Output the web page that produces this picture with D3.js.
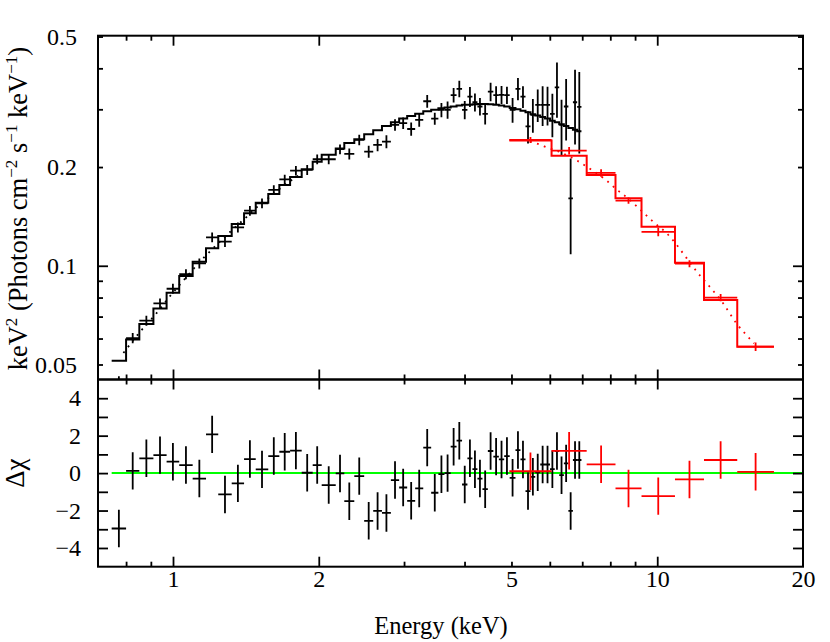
<!DOCTYPE html>
<html>
<head>
<meta charset="utf-8">
<script src="https://cdn.jsdelivr.net/npm/d3@7"></script>
<style>
  body { margin: 0; background: #fff; }
  svg { display: block; }
</style>
</head>
<body>
<script>
// black data group: bin edges (keV), unfolded flux, 1-sigma error, folded model, residuals
const blackEdges = [0.747, 0.800, 0.852, 0.911, 0.970, 1.030, 1.098, 1.170, 1.240, 1.322, 1.402, 1.482,
  1.573, 1.658, 1.745, 1.844, 1.943, 2.028, 2.168, 2.258, 2.368, 2.482, 2.591, 2.701, 2.818, 2.931,
  3.045, 3.163, 3.287, 3.413, 3.532, 3.636, 3.745, 3.851, 3.953, 4.055, 4.153, 4.253, 4.356, 4.469,
  4.587, 4.709, 4.830, 4.958, 5.096, 5.218, 5.345, 5.474, 5.598, 5.733, 5.865, 6.006, 6.142, 6.274,
  6.415, 6.554, 6.697, 6.833, 6.974];
const blackFlux = [0.0435, 0.0602, 0.0680, 0.0768, 0.0851, 0.0943, 0.1017, 0.1221, 0.1184, 0.1310,
  0.1472, 0.1550, 0.1703, 0.1835, 0.1950, 0.1960, 0.2113, 0.2113, 0.2267, 0.2193,
  0.2420, 0.2229, 0.2336, 0.2392, 0.2690, 0.2723, 0.2613, 0.2785, 0.3175, 0.2810,
  0.2988, 0.2988, 0.3315, 0.3465, 0.2988, 0.3280, 0.3152, 0.3060, 0.2907, 0.3397,
  0.3315, 0.3322, 0.3315, 0.2988, 0.3465, 0.3280, 0.2660, 0.2885, 0.3096, 0.3096,
  0.3096, 0.2907, 0.3497, 0.2690, 0.3060, 0.1605, 0.3152, 0.3050];
const blackErr = [0.0025, 0.0022, 0.0024, 0.0027, 0.0030, 0.0033, 0.0036, 0.0042, 0.0043, 0.0046,
  0.0050, 0.0053, 0.0056, 0.0060, 0.0065, 0.0068, 0.0072, 0.0075, 0.0078, 0.0085,
  0.0090, 0.0095, 0.0100, 0.0110, 0.0110, 0.0110, 0.0120, 0.0130, 0.0140, 0.0120,
  0.015, 0.018, 0.017, 0.020, 0.019, 0.023, 0.020, 0.019, 0.021, 0.022,
  0.021, 0.021, 0.020, 0.026, 0.027, 0.025, 0.030, 0.034, 0.035, 0.043,
  0.042, 0.044, 0.067, 0.052, 0.065, 0.052, 0.081, 0.085];
const blackModel = [0.0513, 0.0596, 0.0664, 0.0741, 0.0827, 0.0930, 0.1028, 0.1130, 0.1232, 0.1341,
  0.1445, 0.1557, 0.1655, 0.1764, 0.1864, 0.1969, 0.2077, 0.2180, 0.2280, 0.2370,
  0.2430, 0.2520, 0.2590, 0.2670, 0.2740, 0.2810, 0.2860, 0.2910, 0.2960, 0.2990,
  0.3020, 0.3040, 0.3060, 0.3080, 0.3095, 0.3100, 0.3110, 0.3115, 0.3115, 0.3110,
  0.3100, 0.3080, 0.3060, 0.3025, 0.3000, 0.2970, 0.2940, 0.2900, 0.2870, 0.2840,
  0.2810, 0.2770, 0.2740, 0.2700, 0.2670, 0.2630, 0.2600, 0.2570];
const blackRes = [-2.96, 0.12, 0.79, 0.96, 0.61, 0.43, -0.29, 2.07, -1.14, -0.55,
  0.75, 0.20, 0.91, 1.14, 1.20, 0.02, 0.43, -0.64, -0.02, -1.50,
  -0.16, -2.55, -2.02, -2.13, -0.37, -0.77, -1.48, -0.82, 1.36, -1.05,
  -0.06, 0.00, 1.41, 1.73, -0.61, 0.79, 0.21, -0.29, -0.86, 1.18,
  0.88, 0.73, 0.91, -0.25, 1.23, 0.73, -0.96, -0.20, 0.04, 0.46,
  0.46, 0.21, 1.18, -0.11, 0.52, -2.02, 0.70, 0.70];
// black unbinned model (dotted)
const blackLineE = [0.790, 0.855, 0.921, 0.990, 1.042, 1.159, 1.256, 1.336, 1.408, 1.489, 1.586, 1.730, 1.838];
const blackLineV = [0.0542, 0.0629, 0.0712, 0.0814, 0.0889, 0.1061, 0.1192, 0.1301, 0.1394, 0.1508, 0.1624, 0.1797, 0.1906];

// red data group
const redEdges = [4.95, 6.05, 7.15, 8.20, 9.28, 10.88, 12.49, 14.63, 17.42];
const redFlux = [0.2420, 0.2244, 0.1920, 0.1580, 0.1268, 0.1015, 0.0800, 0.0567];
const redErr = [0.0050, 0.0060, 0.0050, 0.0035, 0.0038, 0.0025, 0.0020, 0.0017];
const redModel = [0.2410, 0.2167, 0.1890, 0.1606, 0.1316, 0.1022, 0.0786, 0.0566];
const redRes = [0.10, 1.19, 0.47, -0.82, -1.23, -0.34, 0.70, 0.07];
const redLineE = [5.46, 5.73, 5.94, 6.19, 6.84, 7.32, 7.80, 8.28, 8.78, 9.28, 9.84, 10.46, 10.91,
  11.50, 12.12, 12.75, 13.69, 14.59, 15.45, 15.84];
const redLineV = [0.239, 0.234, 0.229, 0.2244, 0.209, 0.196, 0.1836, 0.170, 0.1588, 0.147, 0.1356,
  0.1256, 0.1170, 0.1055, 0.0952, 0.0873, 0.0767, 0.0666, 0.0604, 0.0580];

// ticks
const xMajor = [1, 2, 10];
const xMinor = [0.8, 0.9, 3, 4, 5, 6, 7, 8, 9];
const xLabels = [1, 2, 5, 10, 20];
const yMajor = [0.1];
const yMinor = [0.05, 0.06, 0.07, 0.08, 0.09, 0.2, 0.3, 0.4, 0.5];
const yLabels = [0.05, 0.1, 0.2, 0.5];
const resTicks = [-4, -3, -2, -1, 0, 1, 2, 3, 4];
const resLabels = [-4, -2, 0, 2, 4];

const width = 830, height = 642;
const x0 = 98, x1 = 803, yTop = 35.7, yMid = 379.5, yBot = 566.7;
const font = "Liberation Serif, Times New Roman, serif";
const fs = 24;

const svg = d3.select("body").append("svg")
  .attr("width", width)
  .attr("height", height);

const x = d3.scaleLog().domain([0.7, 20]).range([x0, x1]);
const y = d3.scaleLog().domain([0.045, 0.503]).range([yMid, yTop]);
const yr = d3.scaleLinear().domain([-5, 5]).range([yBot, yMid]);

// clip paths
const defs = svg.append("defs");
defs.append("clipPath").attr("id", "clipTop").append("rect")
  .attr("x", x0).attr("y", yTop).attr("width", x1 - x0).attr("height", yMid - yTop);
defs.append("clipPath").attr("id", "clipBot").append("rect")
  .attr("x", x0).attr("y", yMid).attr("width", x1 - x0).attr("height", yBot - yMid);

function bins(edges, flux, err, model, res) {
  return flux.map((v, i) => ({
    lo: edges[i], hi: edges[i + 1],
    c: Math.sqrt(edges[i] * edges[i + 1]),
    v, e: err[i], m: model[i], r: res[i]
  }));
}
const black = bins(blackEdges, blackFlux, blackErr, blackModel, blackRes);
const red = bins(redEdges, redFlux, redErr, redModel, redRes);

function stepPath(data) {
  let p = "";
  data.forEach((d, i) => {
    p += (i === 0 ? "M" : "L") + x(d.lo) + "," + y(d.m) + "L" + x(d.hi) + "," + y(d.m);
  });
  return p;
}

const topG = svg.append("g").attr("clip-path", "url(#clipTop)");
const botG = svg.append("g").attr("clip-path", "url(#clipBot)");

function drawGroup(data, color, lineE, lineV) {
  // folded model as histogram
  topG.append("path")
    .attr("d", stepPath(data))
    .attr("fill", "none")
    .attr("stroke", color)
    .attr("stroke-width", 2);

  // data crosses
  const g = topG.append("g").attr("stroke", color).attr("stroke-width", 1.8);
  g.selectAll(".h").data(data).enter().append("line")
    .attr("x1", d => x(d.lo)).attr("x2", d => x(d.hi))
    .attr("y1", d => y(d.v)).attr("y2", d => y(d.v));
  g.selectAll(".v").data(data).enter().append("line")
    .attr("x1", d => x(d.c)).attr("x2", d => x(d.c))
    .attr("y1", d => y(d.v + d.e)).attr("y2", d => y(Math.max(d.v - d.e, 0.01)));

  // unbinned model, dotted
  const pts = lineE.map((e, i) => [e, lineV[i]]);
  topG.append("path")
    .attr("d", d3.line().x(d => x(d[0])).y(d => y(d[1])).curve(d3.curveMonotoneX)(pts))
    .attr("fill", "none")
    .attr("stroke", color)
    .attr("stroke-width", 1.8)
    .attr("stroke-dasharray", "1.8,5.5");

  // residuals
  const r = botG.append("g").attr("stroke", color).attr("stroke-width", 1.8);
  r.selectAll(".h").data(data).enter().append("line")
    .attr("x1", d => x(d.lo)).attr("x2", d => x(d.hi))
    .attr("y1", d => yr(d.r)).attr("y2", d => yr(d.r));
  r.selectAll(".v").data(data).enter().append("line")
    .attr("x1", d => x(d.c)).attr("x2", d => x(d.c))
    .attr("y1", d => yr(d.r + 1)).attr("y2", d => yr(d.r - 1));
}

// zero line in the residual panel
botG.append("line")
  .attr("x1", x(blackEdges[0])).attr("x2", x(20))
  .attr("y1", yr(0)).attr("y2", yr(0))
  .attr("stroke", "#00ff00")
  .attr("stroke-width", 2);

drawGroup(black, "#000", blackLineE, blackLineV);
drawGroup(red, "#ff0000", redLineE, redLineV);

// frames
[[yTop, yMid], [yMid, yBot]].forEach(([a, b]) => {
  svg.append("rect")
    .attr("x", x0).attr("y", a)
    .attr("width", x1 - x0).attr("height", b - a)
    .attr("fill", "none").attr("stroke", "#000").attr("stroke-width", 2);
});

// tick marks
function ticks(axis, tx, ty) {
  const g = svg.append("g")
    .attr("transform", `translate(${tx},${ty})`)
    .call(axis.tickFormat(""));
  g.select(".domain").remove();
  g.selectAll(".tick line").attr("stroke-width", 1.8);
}
[[yTop, d3.axisTop], [yMid, d3.axisBottom], [yMid, d3.axisTop], [yBot, d3.axisBottom]].forEach(([yy, ax]) => {
  ticks(ax(x).tickValues(xMajor).tickSize(-10), 0, yy);
  ticks(ax(x).tickValues(xMinor).tickSize(-5), 0, yy);
});
ticks(d3.axisLeft(y).tickValues(yMajor).tickSize(-10), x0, 0);
ticks(d3.axisLeft(y).tickValues(yMinor).tickSize(-5), x0, 0);
ticks(d3.axisRight(y).tickValues(yMajor).tickSize(-10), x1, 0);
ticks(d3.axisRight(y).tickValues(yMinor).tickSize(-5), x1, 0);
ticks(d3.axisLeft(yr).tickValues(resTicks).tickSize(-10), x0, 0);
ticks(d3.axisRight(yr).tickValues(resTicks).tickSize(-10), x1, 0);

// tick labels
function labels(axis, tx, ty) {
  const g = svg.append("g")
    .attr("transform", `translate(${tx},${ty})`)
    .call(axis.tickSize(0));
  g.select(".domain").remove();
  g.attr("font-family", font).attr("font-size", fs);
  g.selectAll(".tick text").attr("fill", "#000");
}
labels(d3.axisBottom(x).tickValues(xLabels).tickPadding(3).tickFormat(d => String(d)), 0, yBot);
labels(d3.axisLeft(y).tickValues(yLabels).tickPadding(21).tickFormat(d => String(d)), x0, 0);
labels(d3.axisLeft(yr).tickValues(resLabels).tickPadding(17)
  .tickFormat(d => d < 0 ? "\u2212" + (-d) : String(d)), x0, 0);

// axis titles
svg.append("text")
  .attr("x", 441).attr("y", 634)
  .attr("text-anchor", "middle")
  .attr("font-family", font).attr("font-size", 24.5)
  .text("Energy (keV)");

const yt = svg.append("text")
  .attr("transform", `translate(26.5,${(yTop + yMid) / 2 + 1}) rotate(-90)`)
  .attr("text-anchor", "middle")
  .attr("font-family", font).attr("font-size", 26.5);
const parts = [["keV", 0], ["2", 1], [" (Photons cm", 0], ["\u22122", 1], [" s", 0], ["\u22121", 1],
  [" keV", 0], ["\u22121", 1], [")", 0]];
let up = false;
parts.forEach(([t, sup]) => {
  const s = yt.append("tspan").text(t);
  if (sup && !up) { s.attr("dy", -9.5).attr("font-size", 17); up = true; }
  else if (sup) { s.attr("font-size", 17); }
  else if (up) { s.attr("dy", 9.5); up = false; }
});

svg.append("text")
  .attr("transform", `translate(24,${yr(0)}) rotate(-90)`)
  .attr("text-anchor", "middle")
  .attr("font-family", font).attr("font-size", 27)
  .text("\u0394\u03c7");
</script>
</body>
</html>
